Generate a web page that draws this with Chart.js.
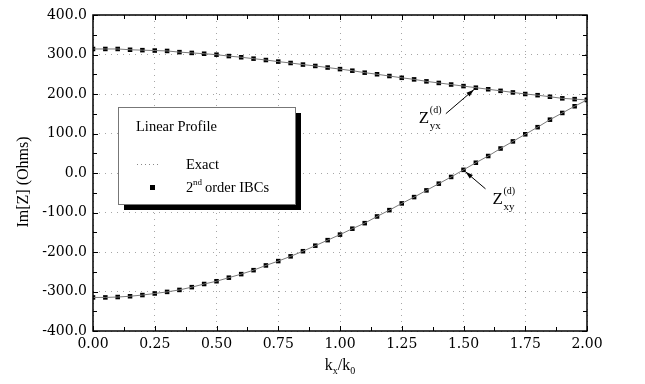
<!DOCTYPE html>
<html>
<head>
<meta charset="utf-8">
<script src="https://cdn.jsdelivr.net/npm/chart.js@4.4.1/dist/chart.umd.min.js"></script>
<style>
  html, body { margin: 0; padding: 0; background: #fff; }
</style>
</head>
<body>
<canvas id="chart" width="645" height="384"></canvas>
<script>
// k_x / k_0 sample points
const kx = [0.00, 0.05, 0.10, 0.15, 0.20, 0.25, 0.30, 0.35, 0.40, 0.45,
            0.50, 0.55, 0.60, 0.65, 0.70, 0.75, 0.80, 0.85, 0.90, 0.95,
            1.00, 1.05, 1.10, 1.15, 1.20, 1.25, 1.30, 1.35, 1.40, 1.45,
            1.50, 1.55, 1.60, 1.65, 1.70, 1.75, 1.80, 1.85, 1.90, 1.95, 2.00];

// Im[Z_yx] (Ohms)
const zyx = [314, 314, 314, 312, 311, 310, 309, 306, 304, 302,
             299.5, 296, 293, 289.5, 286, 282, 278.5, 274.5, 271, 267,
             263, 259, 254, 250, 245.5, 241, 237, 232, 228, 224,
             220, 216, 212, 208, 204, 200, 197, 193, 189, 187, 185];

// Im[Z_xy] (Ohms)
const zxy = [-315, -315, -314, -312, -309, -305, -301, -296, -289, -281,
             -274, -265, -256, -246, -234, -223, -211, -198, -184, -170,
             -156, -141, -127, -110, -94, -77, -61, -44, -27, -10,
             8, 26, 43, 62, 80, 98, 116, 135, 152, 169, 185];

const xTickLabels = ['0.00', '0.25', '0.50', '0.75', '1.00', '1.25', '1.50', '1.75', '2.00'];
const yTickLabels = ['-400.0', '-300.0', '-200.0', '-100.0', '0.0', '100.0', '200.0', '300.0', '400.0'];

const serif = '"Liberation Serif", "Times New Roman", serif';
const tickFont = '"DejaVu Serif", serif';

function isMajor(v, step) {
  const i = Math.round(v / step);
  return Math.abs(v - i * step) < 1e-6;
}

function pts(ys) {
  return kx.map((x, i) => ({ x: x, y: ys[i] }));
}

// frame, inward ticks, legend box, axis titles and the Z labels
const decorations = {
  id: 'decorations',
  afterDatasetsDraw(chart) {
    const c = chart.ctx;
    const a = chart.chartArea;
    const xs = chart.scales.x;
    const ys = chart.scales.y;
    c.save();

    // frame
    c.strokeStyle = '#000';
    c.lineWidth = 1.5;
    c.strokeRect(a.left, a.top, a.right - a.left, a.bottom - a.top);

    // inward ticks on all four sides
    c.lineWidth = 1;
    c.beginPath();
    for (let v = 0; v <= 2.0001; v += 0.125) {
      const px = Math.round(xs.getPixelForValue(v)) + 0.5;
      const len = isMajor(v, 0.25) ? 5 : 4;
      c.moveTo(px, a.bottom); c.lineTo(px, a.bottom - len);
      c.moveTo(px, a.top); c.lineTo(px, a.top + len);
    }
    for (let v = -400; v <= 400; v += 50) {
      const py = Math.round(ys.getPixelForValue(v)) + 0.5;
      const len = isMajor(v, 100) ? 5 : 4;
      c.moveTo(a.left, py); c.lineTo(a.left + len, py);
      c.moveTo(a.right, py); c.lineTo(a.right - len, py);
    }
    c.stroke();

    // legend box with shadow
    const bx = 118, by = 107, bw = 177, bh = 97;
    c.fillStyle = '#000';
    c.fillRect(bx + 6, by + 6, bw, bh);
    c.fillStyle = '#fff';
    c.fillRect(bx, by, bw, bh);
    c.strokeStyle = '#777';
    c.lineWidth = 1;
    c.strokeRect(bx + 0.5, by + 0.5, bw, bh);

    c.fillStyle = '#000';
    c.textBaseline = 'alphabetic';
    c.textAlign = 'left';
    c.font = '14.5px ' + serif;
    c.fillText('Linear Profile', 136, 131);

    c.strokeStyle = '#888';
    c.setLineDash([1, 3]);
    c.beginPath();
    c.moveTo(137, 164.5); c.lineTo(160, 164.5);
    c.stroke();
    c.setLineDash([]);
    c.fillText('Exact', 186, 169);

    c.fillRect(150, 185, 5, 5);
    c.fillText('2', 186, 192);
    c.font = '9px ' + serif;
    c.fillText('nd', 193, 185);
    c.font = '14.5px ' + serif;
    c.fillText('order IBCs', 205, 192);

    // Z labels with arrows, tied to data points
    function arrow(tx, ty, fx, fy) {
      const ang = Math.atan2(ty - fy, tx - fx);
      c.strokeStyle = '#000';
      c.lineWidth = 1;
      c.beginPath();
      c.moveTo(fx, fy); c.lineTo(tx, ty);
      c.stroke();
      c.beginPath();
      c.moveTo(tx, ty);
      c.lineTo(tx - 8 * Math.cos(ang - 0.3), ty - 8 * Math.sin(ang - 0.3));
      c.lineTo(tx - 8 * Math.cos(ang + 0.3), ty - 8 * Math.sin(ang + 0.3));
      c.closePath();
      c.fill();
    }
    function zLabel(x, y, sub) {
      c.font = '17px ' + serif;
      c.fillText('Z', x, y);
      c.font = '10px ' + serif;
      c.fillText('(d)', x + 11, y - 10);
      c.font = '11px ' + serif;
      c.fillText(sub, x + 11, y + 6);
    }
    const p1x = xs.getPixelForValue(kx[31]), p1y = ys.getPixelForValue(zyx[31]);
    arrow(p1x - 2, p1y + 2, p1x - 30, p1y + 26);
    zLabel(p1x - 57, p1y + 35, 'yx');

    const p2x = xs.getPixelForValue(kx[30]), p2y = ys.getPixelForValue(zxy[30]);
    arrow(p2x + 2, p2y + 2, p2x + 22, p2y + 19);
    zLabel(p2x + 29, p2y + 34, 'xy');

    // x axis title with subscripts
    const cx = (a.left + a.right) / 2;
    c.font = '16px ' + serif;
    const w1 = c.measureText('k').width;
    const w2 = c.measureText('/k').width;
    c.font = '10px ' + serif;
    const ws = c.measureText('x').width;
    const w0 = c.measureText('0').width;
    let x0 = cx - (w1 + ws + w2 + w0) / 2;
    const base = 370;
    c.font = '16px ' + serif;
    c.fillText('k', x0, base); x0 += w1;
    c.font = '10px ' + serif;
    c.fillText('x', x0, base + 4); x0 += ws;
    c.font = '16px ' + serif;
    c.fillText('/k', x0, base); x0 += w2;
    c.font = '10px ' + serif;
    c.fillText('0', x0, base + 4);

    // y axis title
    c.translate(24, 182);
    c.rotate(-Math.PI / 2);
    c.textAlign = 'center';
    c.textBaseline = 'middle';
    c.font = '16px ' + serif;
    c.fillText('Im[Z] (Ohms)', 0, 0);

    c.restore();
  }
};

new Chart(document.getElementById('chart'), {
  type: 'scatter',
  data: {
    datasets: [
      {
        label: 'Exact',
        data: pts(zyx),
        showLine: true,
        borderColor: '#7a7a7a',
        borderWidth: 1,
        pointRadius: 0
      },
      {
        label: 'Exact',
        data: pts(zxy),
        showLine: true,
        borderColor: '#7a7a7a',
        borderWidth: 1,
        pointRadius: 0
      },
      {
        label: '2nd order IBCs',
        data: pts(zyx),
        showLine: false,
        pointStyle: 'rect',
        pointRadius: 3.2,
        backgroundColor: '#000',
        borderColor: '#000',
        borderWidth: 0
      },
      {
        label: '2nd order IBCs',
        data: pts(zxy),
        showLine: false,
        pointStyle: 'rect',
        pointRadius: 3.2,
        backgroundColor: '#000',
        borderColor: '#000',
        borderWidth: 0
      }
    ]
  },
  options: {
    responsive: false,
    animation: false,
    layout: { padding: { top: 15, right: 58, left: 0, bottom: 0 } },
    plugins: {
      legend: { display: false },
      tooltip: { enabled: false }
    },
    scales: {
      x: {
        type: 'linear',
        min: 0,
        max: 2,
        afterFit(s) { s.height = 53; },
        ticks: {
          stepSize: 0.125,
          autoSkip: false,
          maxRotation: 0,
          padding: 5,
          color: '#000',
          font: { family: tickFont, size: 14 },
          callback(v) {
            return isMajor(v, 0.25) ? xTickLabels[Math.round(v / 0.25)] : '';
          }
        },
        grid: {
          drawTicks: false,
          lineWidth: 1,
          color(ctx) {
            const v = ctx.tick ? ctx.tick.value : 0;
            return isMajor(v, 0.25) ? 'rgba(0,0,0,0.35)' : 'rgba(0,0,0,0)';
          }
        },
        border: { display: false, dash: [1, 5] }
      },
      y: {
        type: 'linear',
        min: -400,
        max: 400,
        afterFit(s) { s.width = 93; },
        ticks: {
          stepSize: 50,
          autoSkip: false,
          padding: 6,
          color: '#000',
          font: { family: tickFont, size: 14 },
          callback(v) {
            return isMajor(v, 100) ? yTickLabels[Math.round((v + 400) / 100)] : '';
          }
        },
        grid: {
          drawTicks: false,
          lineWidth: 1,
          color(ctx) {
            const v = ctx.tick ? ctx.tick.value : 0;
            return isMajor(v, 100) ? 'rgba(0,0,0,0.35)' : 'rgba(0,0,0,0)';
          }
        },
        border: { display: false, dash: [1, 5] }
      }
    }
  },
  plugins: [decorations]
});
</script>
</body>
</html>
